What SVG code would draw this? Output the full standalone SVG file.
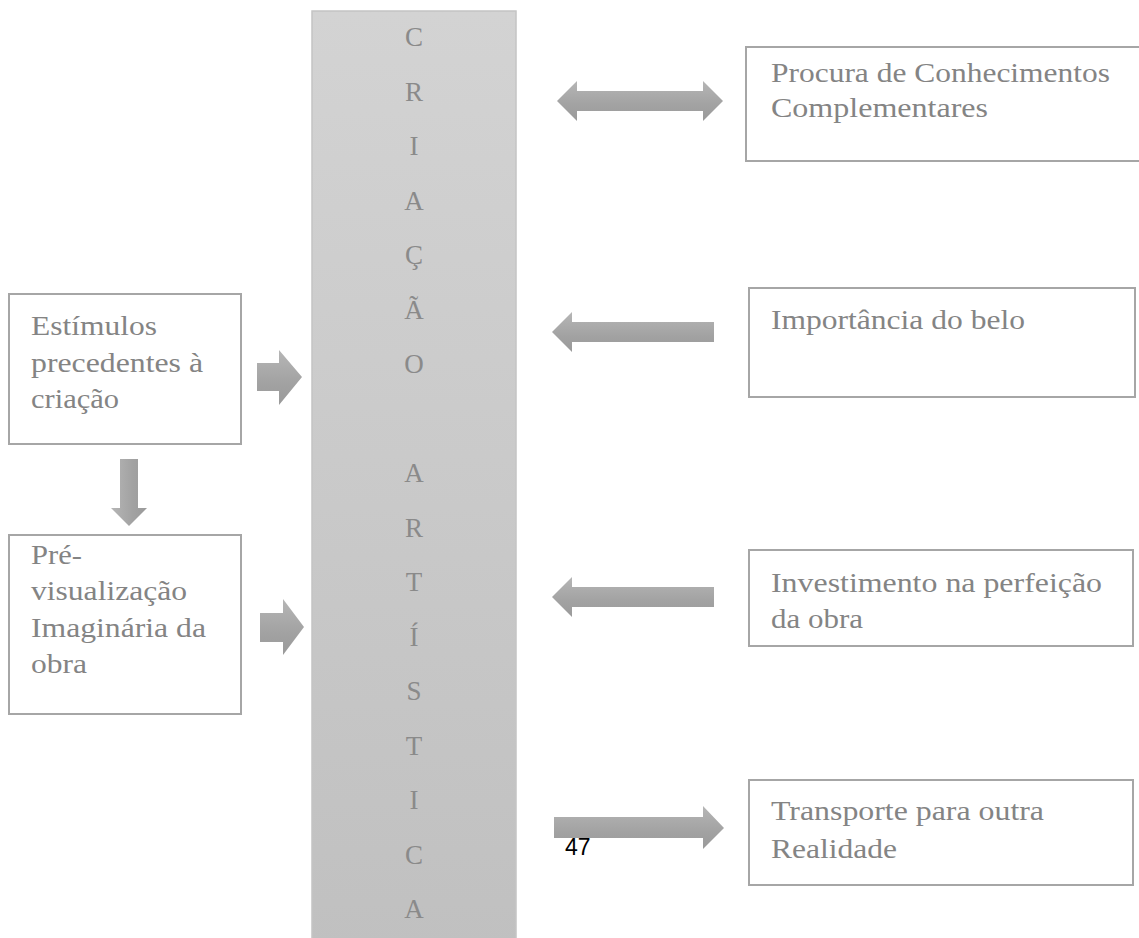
<svg xmlns="http://www.w3.org/2000/svg" width="1139" height="938" viewBox="0 0 1139 938">
<defs>
<linearGradient id="colG" x1="0" y1="0" x2="0" y2="1">
<stop offset="0" stop-color="#d3d3d3"/>
<stop offset="1" stop-color="#c0c0c0"/>
</linearGradient>
<linearGradient id="arrV" x1="0" y1="0" x2="0" y2="1">
<stop offset="0" stop-color="#b6b6b6"/>
<stop offset="0.6" stop-color="#a2a2a2"/>
<stop offset="1" stop-color="#9a9a9a"/>
</linearGradient>
<linearGradient id="arrH" x1="0" y1="0" x2="1" y2="0">
<stop offset="0" stop-color="#b6b6b6"/>
<stop offset="0.6" stop-color="#a2a2a2"/>
<stop offset="1" stop-color="#9a9a9a"/>
</linearGradient>
</defs>
<style>
.box{fill:#ffffff;stroke:#a6a6a6;stroke-width:2}
.t{font-family:"Liberation Serif","Times New Roman",serif;font-size:27px;fill:#848484}
.col{font-family:"Liberation Serif","Times New Roman",serif;font-size:27px;fill:#8a8a8a;text-anchor:middle}
.arr{fill:url(#arrV)}
.arrd{fill:url(#arrH)}
.pg{font-family:"Liberation Sans",Arial,sans-serif;font-size:23px;fill:#000000}
</style>
<rect width="1139" height="938" fill="#ffffff"/>

<g id="central">
<rect x="312" y="11" width="204" height="940" fill="url(#colG)" stroke="#c4c4c4" stroke-width="1.5"/>
<text class="col" x="414" y="46">C</text>
<text class="col" x="414" y="101">R</text>
<text class="col" x="414" y="155">I</text>
<text class="col" x="414" y="210">A</text>
<text class="col" x="414" y="264">Ç</text>
<text class="col" x="414" y="319">Ã</text>
<text class="col" x="414" y="373">O</text>
<text class="col" x="414" y="482">A</text>
<text class="col" x="414" y="537">R</text>
<text class="col" x="414" y="591">T</text>
<text class="col" x="414" y="646">Í</text>
<text class="col" x="414" y="700">S</text>
<text class="col" x="414" y="755">T</text>
<text class="col" x="414" y="809">I</text>
<text class="col" x="414" y="864">C</text>
<text class="col" x="414" y="918">A</text>
</g>

<g id="estimulos">
<rect class="box" x="9" y="294" width="232" height="150"/>
<text class="t" x="31" y="335" textLength="126" lengthAdjust="spacingAndGlyphs">Estímulos</text>
<text class="t" x="31" y="372" textLength="172" lengthAdjust="spacingAndGlyphs">precedentes à</text>
<text class="t" x="31" y="408" textLength="88" lengthAdjust="spacingAndGlyphs">criação</text>
</g>

<g id="previsualizacao">
<rect class="box" x="9" y="535" width="232" height="179"/>
<text class="t" x="31" y="564" textLength="51" lengthAdjust="spacingAndGlyphs">Pré-</text>
<text class="t" x="31" y="600" textLength="156" lengthAdjust="spacingAndGlyphs">visualização</text>
<text class="t" x="31" y="637" textLength="175" lengthAdjust="spacingAndGlyphs">Imaginária da</text>
<text class="t" x="31" y="673" textLength="56" lengthAdjust="spacingAndGlyphs">obra</text>
</g>

<g id="procura">
<rect class="box" x="746" y="47" width="400" height="114"/>
<text class="t" x="771" y="82" textLength="339" lengthAdjust="spacingAndGlyphs">Procura de Conhecimentos</text>
<text class="t" x="771" y="117" textLength="217" lengthAdjust="spacingAndGlyphs">Complementares</text>
</g>

<g id="importancia">
<rect class="box" x="749" y="288" width="386" height="109"/>
<text class="t" x="771" y="329" textLength="254" lengthAdjust="spacingAndGlyphs">Importância do belo</text>
</g>

<g id="investimento">
<rect class="box" x="749" y="550" width="384" height="96"/>
<text class="t" x="771" y="592" textLength="331" lengthAdjust="spacingAndGlyphs">Investimento na perfeição</text>
<text class="t" x="771" y="628" textLength="92" lengthAdjust="spacingAndGlyphs">da obra</text>
</g>

<g id="transporte">
<rect class="box" x="749" y="780" width="384" height="105"/>
<text class="t" x="771" y="820" textLength="273" lengthAdjust="spacingAndGlyphs">Transporte para outra</text>
<text class="t" x="771" y="858" textLength="126" lengthAdjust="spacingAndGlyphs">Realidade</text>
</g>

<g id="connectors">
<polygon class="arr" points="557,101 577,81 577,91 703,91 703,81 723,101 703,121 703,111 577,111 577,121"/>
<polygon class="arr" points="552,332 572,312 572,322 714,322 714,342 572,342 572,352"/>
<polygon class="arr" points="552,597 572,577 572,587 714,587 714,607 572,607 572,617"/>
<polygon class="arr" points="554,817 703,817 703,806 724,828 703,849 703,838 554,838"/>
<polygon class="arr" points="257,363 279,363 279,350 302,377 279,405 279,391 257,391"/>
<polygon class="arr" points="260,613 283,613 283,599 304,627 283,655 283,642 260,642"/>
<polygon class="arrd" points="120,459 138,459 138,508 147,508 129,526 111,508 120,508"/>
</g>

<text class="pg" x="565" y="855">47</text>
</svg>
